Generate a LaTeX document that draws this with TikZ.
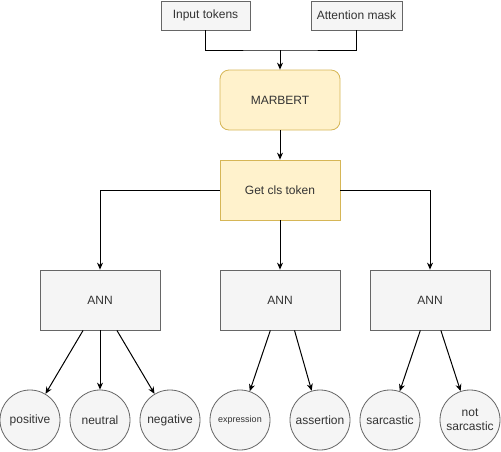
\documentclass[tikz,border=0pt]{standalone}
\usepackage{fontspec}
\setmainfont{Liberation Sans}
\usetikzlibrary{arrows.meta,positioning,calc}
\definecolor{grisfons}{HTML}{F5F5F5}
\definecolor{grisvora}{HTML}{666666}
\definecolor{gristext}{HTML}{333333}
\definecolor{grocfons}{HTML}{FFF2CC}
\definecolor{grocvora}{HTML}{D6B656}

\begin{document}
\begin{tikzpicture}[x=1pt, y=-1pt, >={Stealth[length=7pt,width=6pt]}, font=\fontsize{12}{14}\selectfont,
	  caixa/.style={draw=grisvora, fill=grisfons, text=gristext, line width=0.8pt, inner sep=0pt},
	  groc/.style={draw=grocvora, fill=grocfons, text=gristext, line width=0.8pt, inner sep=0pt, minimum width=120pt, minimum height=60pt},
	  classe/.style={circle, draw=grisvora, fill=grisfons, text=gristext, line width=0.8pt, minimum size=60pt, inner sep=0pt, align=center},
	  fletxa/.style={->, line width=1pt}]
	  \useasboundingbox (0,0) rectangle (501,451);
	  \node[caixa, minimum width=89pt, minimum height=29pt] (inp) at (205.5,15.5) {Input tokens};
	  \node[caixa, minimum width=91pt, minimum height=29pt] (mask) at (356.5,15.5) {Attention mask};
	  \node[groc, rounded corners=9pt] (bert) at (280,100) {MARBERT};
	  \node[groc] (cls) at (280,190) {Get cls token};
	  \coordinate (unio) at (280,50);
	  \draw[line width=1pt] (inp.south) |- (unio) -| (mask.south);
	  \draw[fletxa] (unio) -- (bert.north);
	  \draw[fletxa] (bert) -- (cls);
	  % three heads
	  \foreach \nom/\x in {annA/100, annB/280, annC/430}
	    \node[caixa, minimum width=120pt, minimum height=60pt] (\nom) at (\x,300) {ANN};
	  \draw[fletxa] (cls.west) -| (annA.north);
	  \draw[fletxa] (cls) -- (annB);
	  \draw[fletxa] (cls.east) -| (annC.north);
	  % output classes
	  \node[classe] (pos) at (30,420) {positive};
	  \node[classe] (neu) at (100,420) {neutral};
	  \node[classe] (neg) at (170,420) {negative};
	  \node[classe, font=\fontsize{9}{11}\selectfont] (expr) at (240,420) {expression};
	  \node[classe] (asse) at (320,420) {assertion};
	  \node[classe] (sarc) at (390,420) {sarcastic};
	  \node[classe] (nosa) at (470,420) {not\\sarcastic};
	  \draw[fletxa] ($(annA.south west)!0.36!(annA.south east)$) -- (pos);
	  \draw[fletxa] (annA.south) -- (neu);
	  \draw[fletxa] ($(annA.south west)!0.64!(annA.south east)$) -- (neg);
	  \draw[fletxa] ($(annB.south west)!0.42!(annB.south east)$) -- (expr);
	  \draw[fletxa] ($(annB.south west)!0.62!(annB.south east)$) -- (asse);
	  \draw[fletxa] ($(annC.south west)!0.42!(annC.south east)$) -- (sarc);
	  \draw[fletxa] ($(annC.south west)!0.59!(annC.south east)$) -- (nosa);
	\end{tikzpicture}
\end{document}
